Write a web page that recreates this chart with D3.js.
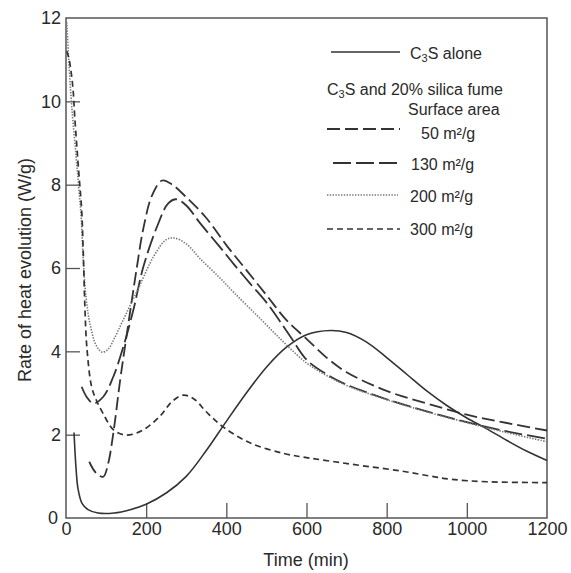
<!DOCTYPE html>
<html>
<head>
<meta charset="utf-8">
<script src="https://cdn.jsdelivr.net/npm/d3@7"></script>
<style>
  body { margin: 0; background: #fff; }
  text { font-family: "Liberation Sans", Arial, sans-serif; fill: #2a2a2a; }
</style>
</head>
<body>
<div id="chart"></div>
<script>
// Data (time in min, rate in W/g)
const xTicks = [0, 200, 400, 600, 800, 1000, 1200]
const yTicks = [0, 2, 4, 6, 8, 10, 12]

const c3sAlone = [
  [20, 2.05], [25, 1.2], [30, 0.7], [40, 0.35], [55, 0.2], [80, 0.12], [120, 0.12],
  [160, 0.2], [200, 0.33], [250, 0.6], [300, 1.0], [350, 1.62], [400, 2.32],
  [450, 3.0], [500, 3.62], [550, 4.1], [600, 4.4], [660, 4.5], [700, 4.45],
  [750, 4.22], [800, 3.85], [850, 3.45], [900, 3.05], [950, 2.7], [1000, 2.4],
  [1050, 2.14], [1100, 1.86], [1150, 1.6], [1200, 1.38]
]
const sf50 = [
  [58, 1.35], [75, 1.08], [93, 0.99], [105, 1.3], [118, 2.03], [135, 3.3], [152, 4.43],
  [177, 6.03], [193, 6.95], [215, 7.75], [240, 8.1], [265, 8.0], [300, 7.7],
  [350, 7.2], [400, 6.55], [450, 5.95], [500, 5.35], [550, 4.75], [600, 4.3],
  [650, 3.85], [700, 3.5], [800, 3.05], [900, 2.75], [1000, 2.48], [1100, 2.28], [1200, 2.1]
]
const sf130 = [
  [39, 3.15], [52, 2.9], [68, 2.75], [93, 2.91], [118, 3.39], [143, 4.11], [168, 4.99],
  [193, 6.03], [227, 6.99], [255, 7.55], [275, 7.65], [300, 7.5], [335, 7.07],
  [380, 6.55], [418, 6.1], [460, 5.62], [502, 5.15], [560, 4.35], [600, 3.8],
  [650, 3.45], [700, 3.2], [800, 2.85], [900, 2.56], [1000, 2.3], [1100, 2.08], [1200, 1.9]
]
const sf200 = [
  [2, 11.9], [8, 10.8], [15, 9.8], [25, 8.7], [32, 7.9], [38, 7.2], [43, 6.2],
  [50, 5.3], [60, 4.65], [75, 4.15], [90, 3.98], [105, 4.05], [120, 4.3], [140, 4.7],
  [180, 5.5], [220, 6.3], [250, 6.68], [270, 6.72], [300, 6.58], [335, 6.22],
  [380, 5.8], [420, 5.4], [485, 4.78], [543, 4.22], [600, 3.72], [650, 3.42],
  [700, 3.18], [800, 2.84], [900, 2.55], [1000, 2.29], [1100, 2.05], [1200, 1.83]
]
const sf300 = [
  [2, 11.2], [8, 11.0], [17, 10.35], [22, 9.6], [31, 8.4], [39, 7.4], [43, 6.4],
  [47, 5.1], [52, 4.1], [64, 3.15], [77, 2.8], [93, 2.5], [118, 2.12], [150, 1.99],
  [190, 2.1], [235, 2.45], [265, 2.8], [293, 2.95], [320, 2.85], [350, 2.55],
  [390, 2.2], [460, 1.8], [543, 1.55], [600, 1.45], [670, 1.35], [750, 1.24],
  [835, 1.13], [900, 1.02], [960, 0.93], [1050, 0.87], [1200, 0.85]
]

const series = [
  { name: 'C3S alone', data: c3sAlone, dash: null, width: 1.6, color: '#333' },
  { name: '50', data: sf50, dash: '13,5', width: 1.8, color: '#333' },
  { name: '130', data: sf130, dash: '18,5', width: 1.8, color: '#333' },
  { name: '200', data: sf200, dash: '1.4,1.4', width: 1.6, color: '#777' },
  { name: '300', data: sf300, dash: '6,4', width: 1.7, color: '#333' }
]

// Dimensions
const dimensions = {
  width: 571,
  height: 573,
  left: 66,
  right: 547,
  top: 18,
  bottom: 518
}

const svg = d3.select('#chart')
  .append('svg')
  .attr('width', dimensions.width)
  .attr('height', dimensions.height)

// Scales
const xScale = d3.scaleLinear()
  .domain([0, 1200])
  .range([dimensions.left, dimensions.right])

const yScale = d3.scaleLinear()
  .domain([0, 12])
  .range([dimensions.bottom, dimensions.top])

// Axes (ticks point inward)
const xAxis = d3.axisBottom(xScale)
  .tickValues(xTicks)
  .tickFormat(d3.format('d'))
  .tickSizeInner(-15)
  .tickSizeOuter(0)
  .tickPadding(4)

const yAxis = d3.axisLeft(yScale)
  .tickValues(yTicks)
  .tickFormat(d3.format('d'))
  .tickSizeInner(-14)
  .tickSizeOuter(0)
  .tickPadding(5)

const xAxisGroup = svg.append('g')
  .attr('transform', `translate(0, ${dimensions.bottom})`)
  .call(xAxis)

const yAxisGroup = svg.append('g')
  .attr('transform', `translate(${dimensions.left}, 0)`)
  .call(yAxis)

for (const g of [xAxisGroup, yAxisGroup]) {
  g.select('.domain').remove()
  g.selectAll('.tick line').attr('stroke', '#555').attr('stroke-width', 1.3)
  g.selectAll('.tick text')
    .attr('font-size', 18)
    .attr('font-family', '"Liberation Sans", Arial, sans-serif')
    .attr('fill', '#2a2a2a')
}
// ticks at the frame edges are hidden by the frame itself
xAxisGroup.selectAll('.tick line').filter(d => d === 0 || d === 1200).remove()
yAxisGroup.selectAll('.tick line').filter(d => d === 0 || d === 12).remove()
yAxisGroup.selectAll('.tick').filter(d => d === 0).select('text').attr('x', -8)

// Frame
svg.append('rect')
  .attr('x', dimensions.left)
  .attr('y', dimensions.top)
  .attr('width', dimensions.right - dimensions.left)
  .attr('height', dimensions.bottom - dimensions.top)
  .attr('fill', 'none')
  .attr('stroke', '#555')
  .attr('stroke-width', 1.5)

// Curves
const line = d3.line()
  .x(d => xScale(d[0]))
  .y(d => yScale(d[1]))
  .curve(d3.curveCatmullRom.alpha(0.5))

svg.append('g')
  .selectAll('path')
  .data(series)
  .join('path')
  .attr('d', d => line(d.data))
  .attr('fill', 'none')
  .attr('stroke', d => d.color)
  .attr('stroke-width', d => d.width)
  .attr('stroke-dasharray', d => d.dash)

// Axis titles
svg.append('text')
  .attr('x', 306)
  .attr('y', 566)
  .attr('text-anchor', 'middle')
  .attr('font-size', 18)
  .text('Time (min)')

svg.append('text')
  .attr('transform', 'translate(31, 270) rotate(-90)')
  .attr('text-anchor', 'middle')
  .attr('font-size', 18)
  .text('Rate of heat evolution (W/g)')

// Legend
const legendLines = [
  { s: series[0], y: 52, x1: 331, x2: 400 },
  { s: series[1], y: 129, x1: 327, x2: 400 },
  { s: series[2], y: 163, x1: 333, x2: 398 },
  { s: series[3], y: 195, x1: 327, x2: 398 },
  { s: series[4], y: 229, x1: 327, x2: 400 }
]

const legend = svg.append('g')

legend.selectAll('line')
  .data(legendLines)
  .join('line')
  .attr('x1', d => d.x1)
  .attr('x2', d => d.x2)
  .attr('y1', d => d.y)
  .attr('y2', d => d.y)
  .attr('stroke', d => d.s.color)
  .attr('stroke-width', d => d.s.width)
  .attr('stroke-dasharray', d => d.s.dash)

function c3sLabel(sel, rest) {
  sel.append('tspan').text('C')
  sel.append('tspan').attr('font-size', 11).attr('dy', 3).text('3')
  sel.append('tspan').attr('dy', -3).text('S' + rest)
}

legend.append('text')
  .attr('x', 410).attr('y', 59)
  .attr('font-size', 16)
  .call(c3sLabel, ' alone')

legend.append('text')
  .attr('x', 327).attr('y', 95)
  .attr('font-size', 16)
  .call(c3sLabel, ' and 20% silica fume')

legend.append('text')
  .attr('x', 408).attr('y', 115)
  .attr('font-size', 16)
  .text('Surface area')

const areaLabels = [
  { label: '50 m²/g', x: 421, y: 139 },
  { label: '130 m²/g', x: 411, y: 170 },
  { label: '200 m²/g', x: 410, y: 202 },
  { label: '300 m²/g', x: 410, y: 235 }
]

legend.selectAll('text.area')
  .data(areaLabels)
  .join('text')
  .attr('class', 'area')
  .attr('x', d => d.x)
  .attr('y', d => d.y)
  .attr('font-size', 16)
  .text(d => d.label)
</script>
</body>
</html>
